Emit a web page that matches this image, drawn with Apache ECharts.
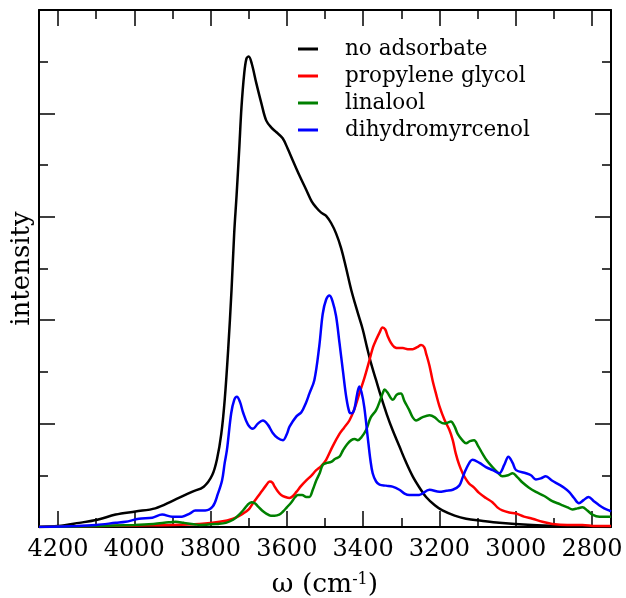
<!DOCTYPE html>
<html>
<head>
<meta charset="utf-8">
<script src="https://cdn.jsdelivr.net/npm/echarts@6/dist/echarts.min.js"></script>
<style>html,body{margin:0;padding:0;background:#fff}#c{width:626px;height:598px}</style>
</head>
<body>
<div id="c"></div>
<script>
// Wavenumbers (cm^-1) and intensities per series
const seriesNames = ["no adsorbate", "propylene glycol", "linalool", "dihydromyrcenol"];
const xTicks = [4200, 4000, 3800, 3600, 3400, 3200, 3000, 2800];
const xMinorTicks = [4100, 3900, 3700, 3500, 3300, 3100, 2900];

const noAdsWn = [4250,4200,4145,4097,4049,3997,3945,3901,3849,3818,3796,3783,3772,3763,3754,3745,3738,3732,3725,3719,3712,3706,3700,3692,3680,3667,3654,3640,3628,3611,3598,3585,3567,3549,3535,3523,3510,3497,3484,3471,3458,3445,3431,3414,3401,3390,3379,3366,3353,3338,3323,3305,3288,3270,3252,3235,3212,3192,3160,3130,3090,3043,2957,2869,2750];
const noAdsI  = [0.00,0.01,0.04,0.07,0.12,0.15,0.18,0.25,0.34,0.39,0.50,0.66,0.90,1.23,1.71,2.30,2.85,3.20,3.65,4.06,4.38,4.53,4.55,4.48,4.29,4.10,3.93,3.86,3.82,3.76,3.66,3.55,3.40,3.26,3.15,3.09,3.04,3.01,2.94,2.84,2.70,2.51,2.29,2.07,1.91,1.74,1.58,1.42,1.26,1.09,0.94,0.78,0.63,0.49,0.38,0.29,0.21,0.16,0.11,0.08,0.06,0.04,0.02,0.01,0.00];

const pgWn = [4250,4100,4000,3900,3829,3776,3741,3715,3700,3689,3675,3667,3655,3645,3638,3632,3623,3615,3604,3593,3584,3575,3562,3549,3535,3523,3510,3497,3480,3462,3450,3436,3423,3410,3396,3383,3374,3366,3357,3349,3342,3336,3327,3318,3306,3296,3283,3270,3258,3248,3240,3235,3226,3218,3209,3200,3187,3174,3165,3157,3148,3139,3130,3122,3109,3096,3078,3061,3048,3035,3017,2999,2978,2956,2930,2904,2865,2825,2790,2750];
const pgI  = [0.00,0.01,0.015,0.02,0.03,0.05,0.08,0.13,0.17,0.23,0.30,0.34,0.40,0.44,0.43,0.39,0.34,0.31,0.29,0.28,0.30,0.34,0.40,0.45,0.50,0.55,0.59,0.65,0.78,0.90,0.96,1.03,1.14,1.29,1.45,1.62,1.74,1.81,1.88,1.93,1.91,1.85,1.78,1.74,1.73,1.73,1.72,1.72,1.74,1.76,1.74,1.68,1.56,1.42,1.29,1.17,1.04,0.94,0.84,0.71,0.60,0.52,0.46,0.42,0.38,0.33,0.28,0.24,0.19,0.16,0.14,0.13,0.10,0.08,0.05,0.03,0.02,0.02,0.01,0.01];

const linWn = [4250,4100,4000,3950,3910,3892,3870,3840,3829,3780,3760,3741,3728,3715,3704,3693,3684,3676,3665,3654,3642,3632,3620,3610,3600,3588,3578,3571,3560,3549,3541,3532,3523,3514,3506,3495,3484,3473,3462,3453,3442,3431,3422,3414,3404,3392,3380,3366,3356,3348,3344,3336,3328,3322,3312,3301,3292,3279,3270,3261,3245,3226,3212,3200,3187,3178,3170,3160,3152,3140,3130,3120,3109,3098,3087,3075,3061,3048,3035,3020,3008,2995,2982,2965,2947,2925,2904,2890,2877,2864,2851,2838,2825,2812,2799,2780,2755,2750];
const linI  = [0.00,0.01,0.02,0.03,0.045,0.05,0.04,0.025,0.02,0.03,0.04,0.07,0.11,0.16,0.21,0.24,0.23,0.20,0.16,0.13,0.11,0.11,0.12,0.15,0.19,0.24,0.29,0.31,0.31,0.29,0.29,0.36,0.45,0.52,0.60,0.62,0.63,0.66,0.68,0.74,0.80,0.84,0.85,0.84,0.87,0.94,1.06,1.13,1.22,1.30,1.33,1.30,1.25,1.23,1.28,1.29,1.22,1.13,1.06,1.03,1.06,1.08,1.06,1.02,1.00,1.01,1.02,0.97,0.90,0.84,0.81,0.83,0.84,0.78,0.71,0.64,0.58,0.53,0.49,0.50,0.52,0.48,0.43,0.38,0.34,0.30,0.25,0.23,0.21,0.19,0.17,0.18,0.19,0.16,0.12,0.10,0.10,0.10];

const dhmWn = [4250,4150,4100,4049,4023,3988,3953,3927,3901,3875,3855,3840,3814,3794,3781,3770,3763,3757,3746,3738,3731,3723,3715,3702,3689,3676,3663,3650,3637,3624,3610,3600,3593,3575,3562,3550,3541,3528,3515,3506,3497,3488,3480,3471,3462,3453,3444,3436,3430,3423,3416,3410,3404,3397,3388,3381,3375,3366,3357,3340,3323,3305,3290,3279,3253,3226,3200,3182,3165,3148,3139,3130,3113,3095,3078,3060,3043,3030,3019,3008,2999,2973,2960,2947,2934,2921,2905,2886,2873,2860,2847,2834,2822,2809,2795,2781,2768,2755,2750];
const dhmI  = [0.00,0.01,0.02,0.04,0.05,0.08,0.09,0.12,0.10,0.10,0.13,0.16,0.16,0.20,0.32,0.45,0.62,0.75,1.10,1.23,1.26,1.21,1.11,0.99,0.95,1.00,1.03,0.99,0.91,0.86,0.84,0.90,0.97,1.07,1.11,1.20,1.29,1.42,1.75,2.06,2.20,2.24,2.18,2.04,1.78,1.51,1.25,1.11,1.10,1.14,1.28,1.36,1.30,1.16,0.87,0.65,0.52,0.44,0.41,0.40,0.39,0.36,0.32,0.31,0.31,0.36,0.34,0.35,0.36,0.40,0.48,0.56,0.65,0.62,0.58,0.55,0.52,0.60,0.68,0.62,0.55,0.52,0.50,0.46,0.47,0.49,0.45,0.41,0.38,0.34,0.28,0.23,0.26,0.29,0.25,0.21,0.18,0.16,0.15];

const seriesColors = ["#000000", "#ff0000", "#008000", "#0000ff"];

function zip(a, b) { return a.map((v, i) => [v, b[i]]); }
const allData = [zip(noAdsWn, noAdsI), zip(pgWn, pgI), zip(linWn, linI), zip(dhmWn, dhmI)];

const FONT = "DejaVu Serif";
const chart = echarts.init(document.getElementById('c'), null, {renderer: 'canvas'});

const axisLine = {show: true, lineStyle: {color: '#000', width: 2}};
const tickStyle = {color: '#000', width: 1.5};
function tickAxis(pos, values, len, withLine) {
  return {
    type: 'value', position: pos, inverse: true, min: 2750, max: 4250,
    axisLine: withLine ? axisLine : {show: false},
    axisTick: {show: true, inside: true, length: len, lineStyle: tickStyle, customValues: values},
    axisLabel: {show: false}, splitLine: {show: false}
  };
}
const option = {
  animation: false,
  backgroundColor: '#fff',
  grid: {left: 39, right: 15, top: 10, bottom: 71, containLabel: false, outerBoundsMode: 'none'},
  legend: {
    orient: 'vertical', left: 293, top: 33, padding: 5,
    icon: 'rect', itemWidth: 20, itemHeight: 3, itemGap: 5,
    data: seriesNames,
    textStyle: {fontFamily: FONT, fontSize: 21.5, color: '#000', lineHeight: 22, padding: [0, 0, 0, 22]}
  },
  xAxis: [
    {
      type: 'value', position: 'bottom', inverse: true, min: 2750, max: 4250,
      axisLine: axisLine,
      axisTick: {show: false},
      splitLine: {show: false},
      axisLabel: {show: true, fontFamily: FONT, fontSize: 24, color: '#000', margin: 11,
        customValues: xTicks, hideOverlap: false, showMinLabel: true, showMaxLabel: true,
        formatter: function (v) { return String(v); }},
      name: '{a|ω (cm}{s|-1}{a|)}',
      nameLocation: 'middle', nameGap: 45,
      nameTextStyle: {rich: {
        a: {fontFamily: FONT, fontSize: 26.5, color: '#000'},
        s: {fontFamily: FONT, fontSize: 16, color: '#000', verticalAlign: 'top', padding: [0,0,11,0]}
      }}
    },
    tickAxis('bottom', xTicks, 16, false),
    tickAxis('bottom', xMinorTicks, 9, false),
    tickAxis('top', xTicks, 16, true),
    tickAxis('top', xMinorTicks, 9, false)
  ],
  yAxis: [
    {
      type: 'value', position: 'left', min: 0, max: 5, interval: 1,
      axisLine: axisLine,
      axisTick: {show: true, inside: true, length: 16, lineStyle: tickStyle},
      minorTick: {show: true, splitNumber: 2, length: 9, lineStyle: tickStyle},
      axisLabel: {show: false}, splitLine: {show: false}, minorSplitLine: {show: false},
      name: 'intensity', nameLocation: 'middle', nameGap: 4, nameRotate: 90,
      nameTextStyle: {fontFamily: FONT, fontSize: 26, color: '#000'}
    },
    {
      type: 'value', position: 'right', min: 0, max: 5, interval: 1,
      axisLine: axisLine,
      axisTick: {show: true, inside: true, length: 16, lineStyle: tickStyle},
      minorTick: {show: true, splitNumber: 2, length: 9, lineStyle: tickStyle},
      axisLabel: {show: false}, splitLine: {show: false}, minorSplitLine: {show: false}
    }
  ],
  series: seriesNames.map((n, i) => ({
    name: n, type: 'line', xAxisIndex: 0, yAxisIndex: 0,
    data: allData[i], showSymbol: false, symbol: 'none', smooth: 0.35,
    color: seriesColors[i],
    lineStyle: {color: seriesColors[i], width: 2.5},
    z: 2 + i
  }))
};
chart.setOption(option);
</script>
</body>
</html>
